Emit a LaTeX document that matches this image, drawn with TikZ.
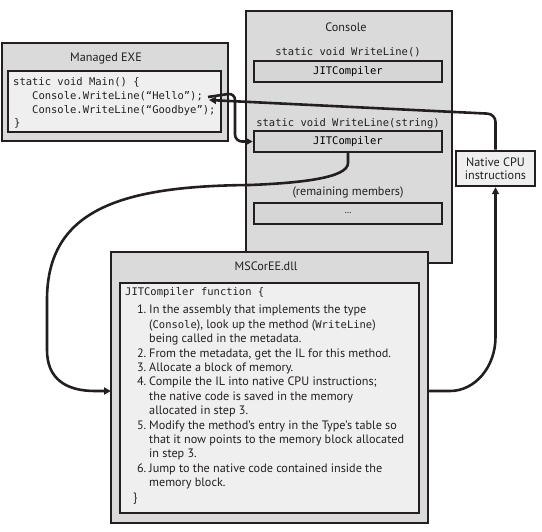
\documentclass[tikz,border=0pt]{standalone}
\usepackage{fontspec}
\setmainfont{PT Sans}
\newfontfamily\monof{DejaVu Sans Mono}
\usetikzlibrary{arrows.meta}
\definecolor{edgec}{HTML}{231F20}
\definecolor{outerc}{HTML}{DADADA}
\definecolor{innerc}{HTML}{EFEFEF}
\definecolor{slotc}{HTML}{D6D6D6}
\begin{document}
\begin{tikzpicture}[x=1pt,y=-1pt,
  box/.style={draw=edgec, line width=2.5pt, rectangle, inner sep=0pt},
  lbl/.style={inner sep=0pt, font=\fontsize{12.2}{14.4}\selectfont, anchor=base, text=edgec},
  ltxt/.style={inner sep=0pt, font=\fontsize{12.2}{14.4}\selectfont, anchor=base west, text=edgec},
  lnum/.style={inner sep=0pt, font=\fontsize{12.2}{14.4}\selectfont, anchor=base east, text=edgec},
  code/.style={inner sep=0pt, font=\monof\fontsize{10.5}{12}\selectfont, anchor=base west, text=edgec},
  codec/.style={inner sep=0pt, font=\monof\fontsize{10.5}{12}\selectfont, anchor=base, text=edgec},
  conn/.style={draw=edgec, line width=2.6pt},
  tip/.style={-{Triangle[length=7pt,width=7pt]}}
]
\useasboundingbox (0,0) rectangle (542,532);

% Managed EXE
\node[box, fill=outerc, minimum width=226pt, minimum height=98pt] (exe) at (115,92) {};
\node[lbl] (exet) at (106,62) {Managed EXE};
\node[box, fill=innerc, minimum width=213pt, minimum height=61pt] (exein) at (114.5,101.5) {};
\node[code] (c1) at (13,85.5) {static void Main() \{};
\node[code] (c2) at (32,99.5) {Console.WriteLine(“Hello”);};
\node[code] (c3) at (32,113.5) {Console.WriteLine(“Goodbye”);};
\node[code] (c4) at (14,127) {\}};

% Console
\node[box, fill=outerc, minimum width=206pt, minimum height=252pt] (con) at (349,137) {};
\node[lbl] (cont) at (346,32) {Console};
\node[codec] (wl0) at (348,55.5) {static void WriteLine()};
\node[box, fill=slotc, minimum width=188pt, minimum height=21pt, font=\monof\fontsize{10.5}{12}\selectfont] (jit1) at (348,71.5) {JITCompiler};
\node[codec] (wl1) at (348,126.5) {static void WriteLine(string)};
\node[box, fill=slotc, minimum width=188pt, minimum height=21pt, font=\monof\fontsize{10.5}{12}\selectfont] (jit2) at (348,141.5) {JITCompiler};
\node[lbl] (rem) at (348,196) {(remaining members)};
\node[box, fill=slotc, minimum width=188pt, minimum height=21pt, font=\fontsize{9}{10}\selectfont] (dots) at (348,213.5) {\ldots};

% Native CPU
\node[box, fill=innerc, minimum width=79pt, minimum height=35pt, align=center,
      font=\fontsize{12.2}{13}\selectfont, text=edgec] (nat) at (495.5,168.5) {Native CPU\\instructions};

% MSCorEE
\node[box, fill=outerc, minimum width=317pt, minimum height=271pt] (ms) at (269.5,387.5) {};
\node[lbl] (mst) at (266,271) {MSCorEE.dll};
\node[box, fill=innerc, minimum width=299pt, minimum height=230pt] (msin) at (269.5,398) {};
\node[code] (f0) at (125,295.5) {JITCompiler function \{};
\node[lnum] (n1) at (146.5,314) {1.};
\node[ltxt] (t1) at (149,314) {In the assembly that implements the type};
\node[ltxt] (t1b) at (149,328.4) {({\monof\fontsize{10.5}{12}\selectfont Console}), look up the method ({\monof\fontsize{10.5}{12}\selectfont WriteLine})};
\node[ltxt] (t1c) at (149,342.8) {being called in the metadata.};
\node[lnum] (n2) at (146.5,357.2) {2.};
\node[ltxt] (t2) at (149,357.2) {From the metadata, get the IL for this method.};
\node[lnum] (n3) at (146.5,371.6) {3.};
\node[ltxt] (t3) at (149,371.6) {Allocate a block of memory.};
\node[lnum] (n4) at (146.5,386) {4.};
\node[ltxt] (t4) at (149,386) {Compile the IL into native CPU instructions;};
\node[ltxt] (t4b) at (149,400.4) {the native code is saved in the memory};
\node[ltxt] (t4c) at (149,414.8) {allocated in step 3.};
\node[lnum] (n5) at (146.5,429.2) {5.};
\node[ltxt] (t5) at (149,429.2) {Modify the method's entry in the Type's table so};
\node[ltxt] (t5b) at (149,443.6) {that it now points to the memory block allocated};
\node[ltxt] (t5c) at (149,458) {in step 3.};
\node[lnum] (n6) at (146.5,472.4) {6.};
\node[ltxt] (t6) at (149,472.4) {Jump to the native code contained inside the};
\node[ltxt] (t6b) at (149,486.8) {memory block.};
\node[ltxt] (fe) at (133,501.2) {\}};

% connector anchor points
\coordinate (helloOut) at (208,97);
\coordinate (helloIn) at (209,100);
\coordinate (msIn) at (111,391);
\coordinate (msOut) at (428,391);

% Hello -> JITCompiler (WriteLine(string))
\draw[conn, tip, rounded corners=7pt] (helloOut) -- (235,93) -- (235,141.5) -- (jit2.west);
% Native CPU -> Hello
\draw[conn, tip, rounded corners=8pt] (nat.north) -- (495.5,114) -- (helloIn);
% JITCompiler -> MSCorEE
\draw[conn, tip] (jit2.south) -- (348,163)
   .. controls (348,178) and (300,183) .. (250,185)
   .. controls (120,186) and (47,210) .. (47,300)
   -- (47,350)
   .. controls (47,378) and (65,391) .. (95,391)
   -- (msIn);
% MSCorEE -> Native CPU
\draw[conn, tip] (msOut) -- (450,391)
   .. controls (475,391) and (495.5,367) .. (495.5,337)
   -- (nat.south);
\end{tikzpicture}
\end{document}
